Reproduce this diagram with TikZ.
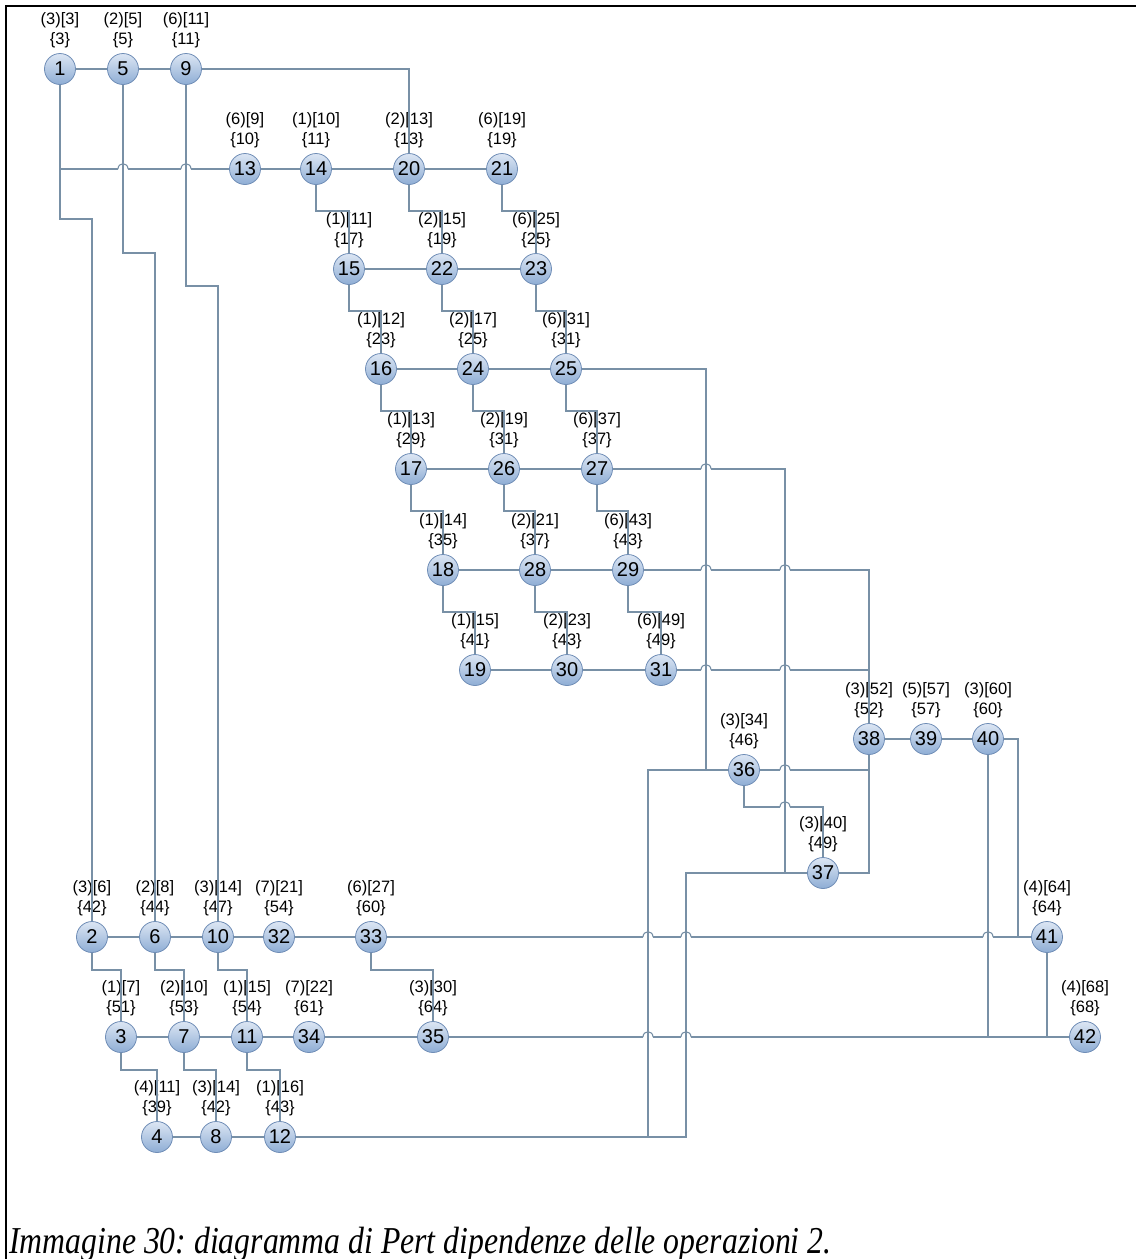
\documentclass[tikz,border=0pt]{standalone}
\usepackage{fontspec}
\setmainfont{Liberation Sans}
\newfontfamily\capfont{Liberation Serif}
\definecolor{linecol}{HTML}{7890A6}
\definecolor{nodetop}{HTML}{DCE6F3}
\definecolor{nodebot}{HTML}{8EADD5}
\definecolor{nodeborder}{HTML}{6F8DB6}
\tikzset{
  pn/.style={circle, minimum size=31pt, inner sep=0pt, draw=nodeborder, line width=0.8pt,
    top color=nodetop, bottom color=nodebot, font=\fontsize{20}{20}\selectfont},
  lbl/.style={font=\fontsize{16.5}{18}\selectfont, inner sep=0pt},
  conn/.style={draw=linecol, line width=1.1pt},
  jmp/.style 2 args={insert path={-- ({#1-5},#2) ({#1+5},#2)}},
}
\newcommand\pnode[5]{%
  \node[pn] (n#1) at (#2,#3) {#1};
  \node[lbl] (la#1) at (#2,{#3-49}) {#4};
  \node[lbl] (lb#1) at (#2,{#3-29}) {\{#5\}};
}
\newcommand\bump[2]{%
  \draw[conn] ({#1-5},#2) .. controls ({#1-5},{#2-7}) and ({#1+5},{#2-7}) .. ({#1+5},#2);
}
\begin{document}
\frenchspacing
\begin{tikzpicture}[x=1pt,y=-1pt]
\useasboundingbox (0,0) rectangle (1136,1259);
\draw[black, line width=1.3pt] (6,1259) -- (6,6) -- (1136,6);
% nodes
\pnode{1}{60}{69}{(3)[3]}{3}
\pnode{5}{123}{69}{(2)[5]}{5}
\pnode{9}{186}{69}{(6)[11]}{11}
\pnode{13}{245}{169}{(6)[9]}{10}
\pnode{14}{316}{169}{(1)[10]}{11}
\pnode{20}{409}{169}{(2)[13]}{13}
\pnode{21}{502}{169}{(6)[19]}{19}
\pnode{15}{349}{269}{(1)[11]}{17}
\pnode{22}{442}{269}{(2)[15]}{19}
\pnode{23}{536}{269}{(6)[25]}{25}
\pnode{16}{381}{369}{(1)[12]}{23}
\pnode{24}{473}{369}{(2)[17]}{25}
\pnode{25}{566}{369}{(6)[31]}{31}
\pnode{17}{411}{469}{(1)[13]}{29}
\pnode{26}{504}{469}{(2)[19]}{31}
\pnode{27}{597}{469}{(6)[37]}{37}
\pnode{18}{443}{570}{(1)[14]}{35}
\pnode{28}{535}{570}{(2)[21]}{37}
\pnode{29}{628}{570}{(6)[43]}{43}
\pnode{19}{475}{670}{(1)[15]}{41}
\pnode{30}{567}{670}{(2)[23]}{43}
\pnode{31}{661}{670}{(6)[49]}{49}
\pnode{38}{869}{739}{(3)[52]}{52}
\pnode{39}{926}{739}{(5)[57]}{57}
\pnode{40}{988}{739}{(3)[60]}{60}
\pnode{36}{744}{770}{(3)[34]}{46}
\pnode{37}{823}{873}{(3)[40]}{49}
\pnode{2}{92}{937}{(3)[6]}{42}
\pnode{6}{155}{937}{(2)[8]}{44}
\pnode{10}{218}{937}{(3)[14]}{47}
\pnode{32}{279}{937}{(7)[21]}{54}
\pnode{33}{371}{937}{(6)[27]}{60}
\pnode{41}{1047}{937}{(4)[64]}{64}
\pnode{3}{121}{1037}{(1)[7]}{51}
\pnode{7}{184}{1037}{(2)[10]}{53}
\pnode{11}{247}{1037}{(1)[15]}{54}
\pnode{34}{309}{1037}{(7)[22]}{61}
\pnode{35}{433}{1037}{(3)[30]}{64}
\pnode{42}{1085}{1037}{(4)[68]}{68}
\pnode{4}{157}{1137}{(4)[11]}{39}
\pnode{8}{216}{1137}{(3)[14]}{42}
\pnode{12}{280}{1137}{(1)[16]}{43}
% branch coordinates
\coordinate (b1) at (60,169);
\coordinate (b12) at (648,1137);
% connectors row 1
\draw[conn] (n1) -- (n5);
\draw[conn] (n5) -- (n9);
\draw[conn] (n9) -| (n20);
\draw[conn] (n1) -- (60,219) -| (n2);
\draw[conn] (b1) [jmp={123}{169}] [jmp={186}{169}] -- (n13);
\draw[conn] (n5) -- (123,253) -| (n6);
\draw[conn] (n9) -- (186,286) -| (n10);
% row 2
\draw[conn] (n13) -- (n14);
\draw[conn] (n14) -- (n20);
\draw[conn] (n20) -- (n21);
\draw[conn] (n14) -- (316,211) -| (n15);
\draw[conn] (n20) -- (409,211) -| (n22);
\draw[conn] (n21) -- (502,211) -| (n23);
% row 3
\draw[conn] (n15) -- (n22);
\draw[conn] (n22) -- (n23);
\draw[conn] (n15) -- (349,311) -| (n16);
\draw[conn] (n22) -- (442,311) -| (n24);
\draw[conn] (n23) -- (536,311) -| (n25);
% row 4
\draw[conn] (n16) -- (n24);
\draw[conn] (n24) -- (n25);
\draw[conn] (n16) -- (381,411) -| (n17);
\draw[conn] (n24) -- (473,411) -| (n26);
\draw[conn] (n25) -- (566,411) -| (n27);
\draw[conn] (n25) -- (706,369) -- (706,770);
% row 5
\draw[conn] (n17) -- (n26);
\draw[conn] (n26) -- (n27);
\draw[conn] (n17) -- (411,511) -| (n18);
\draw[conn] (n26) -- (504,511) -| (n28);
\draw[conn] (n27) -- (597,511) -| (n29);
\draw[conn] (n27) [jmp={706}{469}] -- (785,469) -- (785,873);
% row 6
\draw[conn] (n18) -- (n28);
\draw[conn] (n28) -- (n29);
\draw[conn] (n18) -- (443,612) -| (n19);
\draw[conn] (n28) -- (535,612) -| (n30);
\draw[conn] (n29) -- (628,612) -| (n31);
\draw[conn] (n29) [jmp={706}{570}] [jmp={785}{570}] -- (869,570) -- (n38);
% row 7
\draw[conn] (n19) -- (n30);
\draw[conn] (n30) -- (n31);
\draw[conn] (n31) [jmp={706}{670}] [jmp={785}{670}] -- (869,670);
% 36-40
\draw[conn] (n38) -- (n39);
\draw[conn] (n39) -- (n40);
\draw[conn] (n40) -- (1018,739) -- (1018,937);
\draw[conn] (n40) -- (988,1037);
\draw[conn] (n12) -- (686,1137) |- (n37);
\draw[conn] (b12) |- (n36);
\draw[conn] (n36) [jmp={785}{770}] -- (869,770);
\draw[conn] (n36) -- (744,807) [jmp={785}{807}] -- (823,807) -- (n37);
\draw[conn] (n37) -| (n38);
% bottom rows
\draw[conn] (n2) -- (n6);
\draw[conn] (n6) -- (n10);
\draw[conn] (n10) -- (n32);
\draw[conn] (n32) -- (n33);
\draw[conn] (n33) [jmp={648}{937}] [jmp={686}{937}] [jmp={988}{937}] -- (n41);
\draw[conn] (n2) -- (92,970) -| (n3);
\draw[conn] (n6) -- (155,970) -| (n7);
\draw[conn] (n10) -- (218,970) -| (n11);
\draw[conn] (n33) -- (371,970) -| (n35);
\draw[conn] (n3) -- (n7);
\draw[conn] (n7) -- (n11);
\draw[conn] (n11) -- (n34);
\draw[conn] (n34) -- (n35);
\draw[conn] (n35) [jmp={648}{1037}] [jmp={686}{1037}] -- (n42);
\draw[conn] (n41) -- (1047,1037);
\draw[conn] (n3) -- (121,1070) -| (n4);
\draw[conn] (n7) -- (184,1070) -| (n8);
\draw[conn] (n11) -- (247,1070) -| (n12);
\draw[conn] (n4) -- (n8);
\draw[conn] (n8) -- (n12);
% line jumps
\bump{123}{169}\bump{186}{169}
\bump{706}{469}
\bump{706}{570}\bump{785}{570}
\bump{706}{670}\bump{785}{670}
\bump{785}{770}\bump{785}{807}
\bump{648}{937}\bump{686}{937}\bump{988}{937}
\bump{648}{1037}\bump{686}{1037}
% caption
\node[anchor=base west, inner sep=0pt] (cap) at (9,1253)
  {\scalebox{0.835}[1]{\capfont\itshape\fontsize{38}{40}\selectfont Immagine 30: diagramma di Pert dipendenze delle operazioni 2.}};
\end{tikzpicture}
\end{document}
